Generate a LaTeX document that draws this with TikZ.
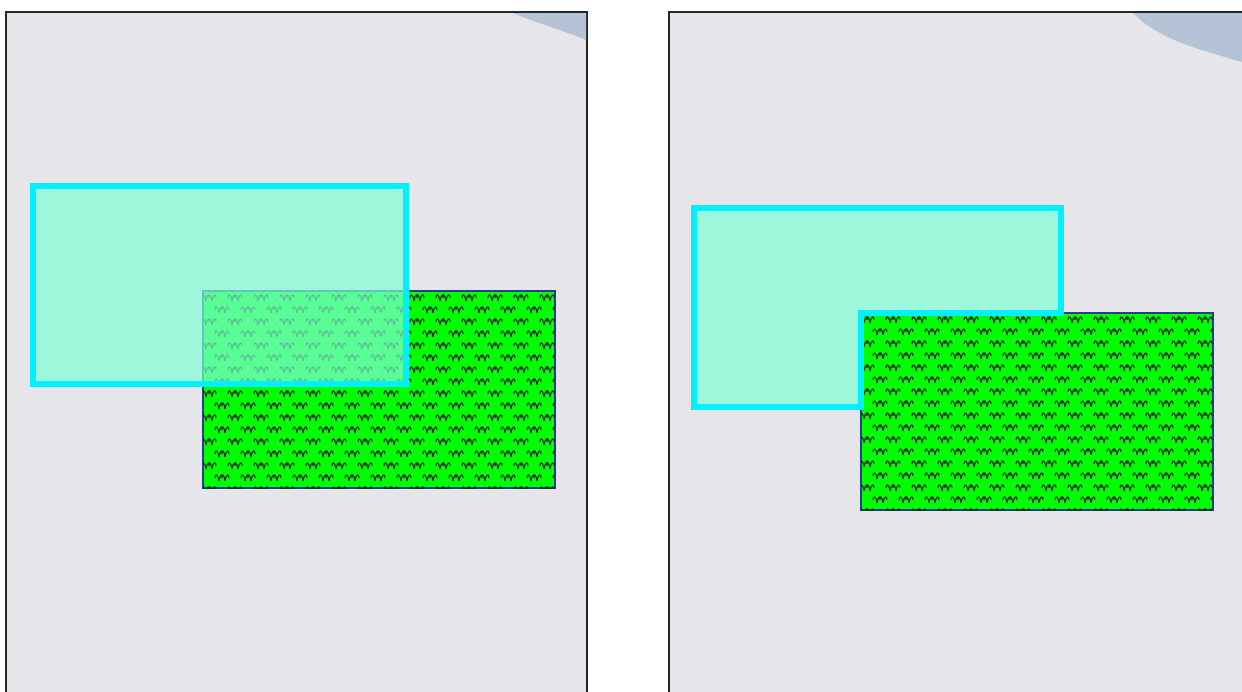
\documentclass[tikz,border=0pt]{standalone}
\usepackage{tikz}
\usetikzlibrary{calc}

\definecolor{panelgrey}{RGB}{229,229,234}
\definecolor{roadblue}{RGB}{180,196,214}
\definecolor{edgeblue}{RGB}{40,60,140}
\definecolor{tuftgreen}{RGB}{10,45,15}
\definecolor{aquamarine}{RGB}{127,255,212}
\definecolor{zonecyan}{RGB}{0,240,255}

\begin{document}
\begin{tikzpicture}[x=1pt,y=-1pt,
    panel/.style={draw=black!85, line width=2pt, fill=panelgrey},
    road/.style={fill=roadblue},
    grassfield/.style={fill=green, draw=edgeblue, line width=1.5pt},
    zone/.style={draw=zonecyan, line width=6pt, fill=aquamarine, fill opacity=0.7, line join=miter},
    tuft/.pic={\draw[tuftgreen, line width=1.1pt]
        (-3,0) .. controls (-4,-7) and (-7,-8) .. (-7,-3)
        (-3,0) .. controls (-2,-7) and (1,-8) .. (0,-3)
        (3,0) .. controls (2,-7) and (-1,-8) .. (0,-4)
        (3,0) .. controls (4,-7) and (7,-8) .. (7,-3);}]
    \useasboundingbox (0,0) rectangle (1242,691);
    \clip (0,0) rectangle (1242,691);

    % two map panels
    \draw[panel] (6,12) rectangle (587,720);
    \draw[panel] (669,12) rectangle (1270,720);
    \fill[road] (513,13) .. controls (545,26) and (570,33) .. (586,40) -- (586,13) -- cycle;
    \fill[road] (1133,13) .. controls (1158,38) and (1190,47) .. (1242,62) -- (1242,13) -- cycle;

    % grass fields
    \foreach \gx/\gy in {203/291, 861/313} {
        \draw[grassfield] (\gx,\gy) rectangle ++(352,197);
        \begin{scope}
            \clip (\gx,\gy) rectangle ++(352,197);
            \foreach \j in {0,...,16}
                \foreach \i in {0,...,14}
                    \pic at ({\gx+26*\i+13*mod(\j,2)+6}, {\gy+12*\j+10}) {tuft};
        \end{scope}
    }

    % zones
    \draw[zone] (33,185.5) rectangle (405.5,383.5);
    \draw[zone] (693.5,208) -- (1061,208) -- (1061,313) -- (861,313)
        -- (861,406.5) -- (693.5,406.5) -- cycle;
\end{tikzpicture}
\end{document}
